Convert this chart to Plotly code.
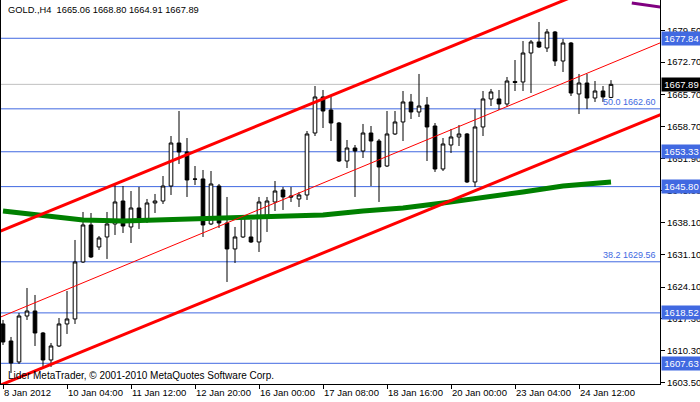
import plotly.graph_objects as go

# ---------------- data ----------------
bars = list(range(77))
opens = [1616.13, 1612.45, 1607.92, 1617.85, 1618.93, 1614.18, 1608.35, 1611.37, 1616.13, 1617.21,
         1629.52, 1637.51, 1632.76, 1634.92, 1637.73, 1642.69, 1637.08, 1641.18, 1638.81, 1642.26,
         1642.69, 1645.93, 1655.22, 1653.28, 1647.45, 1647.45, 1637.73, 1645.93, 1637.94, 1632.33,
         1634.92, 1634.92, 1633.84, 1639.24, 1642.48, 1645.07, 1643.77, 1643.13, 1643.99, 1657.38,
         1665.16, 1662.35, 1659.54, 1651.33, 1654.14, 1653.49, 1657.38, 1655.65, 1650.25, 1657.17,
         1659.76, 1664.08, 1661.92, 1663.43, 1658.89, 1649.61, 1654.79, 1656.52, 1657.17, 1646.80,
         1658.68, 1664.73, 1664.73, 1663.65, 1668.51, 1668.40, 1674.66, 1677.04, 1675.74, 1679.20,
         1672.93, 1676.82, 1665.81, 1668.18, 1664.94, 1666.45, 1665.06]
highs = [1616.99, 1613.32, 1618.50, 1623.90, 1622.39, 1614.40, 1612.02, 1617.42, 1623.25, 1634.27,
         1640.32, 1640.10, 1635.13, 1640.32, 1646.15, 1645.93, 1644.85, 1645.72, 1643.13, 1644.21,
         1648.09, 1656.73, 1662.13, 1656.30, 1650.25, 1649.39, 1649.17, 1646.37, 1643.56, 1637.08,
         1639.67, 1638.59, 1643.56, 1643.56, 1647.01, 1645.72, 1645.72, 1644.64, 1657.81, 1667.53,
         1666.67, 1665.16, 1659.76, 1655.87, 1654.79, 1659.33, 1658.89, 1656.09, 1662.13, 1662.13,
         1666.45, 1665.81, 1670.13, 1665.16, 1659.54, 1656.30, 1658.25, 1659.11, 1657.38, 1662.57,
         1666.45, 1666.89, 1666.67, 1669.48, 1673.15, 1677.25, 1677.47, 1681.36, 1679.85, 1679.41,
         1677.69, 1677.04, 1670.13, 1670.13, 1668.61, 1667.53, 1668.80]
lows = [1611.59, 1605.54, 1607.49, 1616.99, 1611.37, 1606.84, 1606.84, 1611.16, 1613.97, 1616.13,
        1629.30, 1630.38, 1632.11, 1630.17, 1635.35, 1635.78, 1633.62, 1636.65, 1637.94, 1640.10,
        1642.05, 1643.99, 1650.69, 1643.56, 1646.15, 1634.92, 1637.51, 1636.86, 1625.20, 1629.30,
        1634.70, 1633.62, 1631.68, 1636.00, 1640.53, 1640.75, 1642.48, 1641.40, 1642.91, 1656.73,
        1658.46, 1655.65, 1651.11, 1649.82, 1643.56, 1651.98, 1645.93, 1642.48, 1650.04, 1656.95,
        1655.65, 1660.41, 1660.84, 1651.33, 1648.96, 1649.17, 1653.06, 1654.57, 1646.58, 1645.72,
        1656.73, 1663.21, 1662.35, 1663.00, 1666.45, 1666.45, 1666.02, 1675.74, 1674.88, 1671.85,
        1670.56, 1665.37, 1661.49, 1662.57, 1664.08, 1664.08, 1664.91]
closes = [1612.24, 1607.70, 1617.85, 1618.93, 1614.18, 1608.35, 1611.37, 1616.13, 1617.21, 1629.52,
          1637.51, 1630.60, 1634.70, 1637.73, 1642.48, 1637.29, 1641.18, 1638.81, 1642.26, 1642.69,
          1645.93, 1655.22, 1653.28, 1647.23, 1647.40, 1637.51, 1646.37, 1637.94, 1632.33, 1634.92,
          1639.24, 1633.84, 1642.48, 1642.69, 1644.85, 1643.56, 1643.56, 1643.99, 1657.17, 1665.16,
          1662.13, 1659.54, 1651.33, 1654.14, 1653.49, 1657.38, 1655.65, 1650.04, 1657.17, 1659.76,
          1664.08, 1661.92, 1663.21, 1658.68, 1649.61, 1655.01, 1656.52, 1657.17, 1646.80, 1658.68,
          1664.73, 1666.24, 1663.65, 1668.61, 1668.29, 1674.66, 1677.04, 1675.96, 1679.20, 1672.93,
          1676.82, 1666.02, 1668.18, 1664.94, 1666.45, 1665.16, 1667.89]

# moving average (green), read at sampled bars
ma_bars = [0, 5, 10, 15, 20, 25, 30, 35, 40, 45, 50, 55, 60, 65, 70, 76]
ma_vals = [1640.53, 1639.45, 1638.59, 1638.37, 1638.59, 1639.02, 1639.24, 1639.24, 1639.67,
           1640.53, 1641.18, 1642.26, 1643.34, 1644.64, 1645.93, 1646.80]

# channel lines (endpoints, bar index / price)
chan_bars = [-1, 83]
chan_upper = [1635.72, 1695.16]
chan_mid = [1617.13, 1677.46]
chan_lower = [1602.45, 1661.89]

# purple segment top right
purple_bars = [78.6, 82.2]
purple_vals = [1685.47, 1684.58]

# horizontal levels
hlines_blue = [1677.84, 1662.60, 1653.33, 1645.80, 1629.56, 1618.52, 1607.63]
boxed_levels = [1677.84, 1653.33, 1645.80, 1618.52, 1607.63]
bid_price = 1667.89
fib_labels = [("50.0 1662.60", 1662.60), ("38.2 1629.56", 1629.56)]

xtick_bars = [0, 8, 16, 24, 32, 40, 48, 56, 64, 72]
xtick_labels = ["8 Jan 2012", "10 Jan 04:00", "11 Jan 12:00", "12 Jan 20:00", "16 Jan 00:00",
                "17 Jan 08:00", "18 Jan 16:00", "20 Jan 00:00", "23 Jan 04:00", "24 Jan 12:00"]
ytick_vals = [1603.50, 1610.30, 1617.30, 1624.10, 1631.10, 1638.10, 1645.00, 1651.90,
              1658.70, 1665.70, 1672.70, 1679.50]
ytick_labels = ["%.2f" % v for v in ytick_vals]

header = "GOLD.,H4  1665.06 1668.80 1664.91 1667.89"
footer = "Lider MetaTrader, © 2001-2010 MetaQuotes Software Corp."

BLUE = "#4169E1"
FONT = "Liberation Sans, Arial, sans-serif"

fig = go.Figure()

# horizontal lines
shapes = []
for lv in hlines_blue:
    shapes.append(dict(type="line", xref="paper", x0=0, x1=1, yref="y", y0=lv, y1=lv,
                       line=dict(color=BLUE, width=1), layer="below"))
shapes.append(dict(type="line", xref="paper", x0=0, x1=1, yref="y", y0=bid_price, y1=bid_price,
                   line=dict(color="#C0C0C0", width=1), layer="below"))

fig.add_trace(go.Scatter(x=ma_bars, y=ma_vals, mode="lines",
                         line=dict(color="#008000", width=5), hoverinfo="skip"))
fig.add_trace(go.Scatter(x=chan_bars, y=chan_mid, mode="lines",
                         line=dict(color="#FF0000", width=1), hoverinfo="skip"))
fig.add_trace(go.Scatter(x=chan_bars, y=chan_upper, mode="lines",
                         line=dict(color="#FF0000", width=3), hoverinfo="skip"))
fig.add_trace(go.Scatter(x=chan_bars, y=chan_lower, mode="lines",
                         line=dict(color="#FF0000", width=3), hoverinfo="skip"))
fig.add_trace(go.Scatter(x=purple_bars, y=purple_vals, mode="lines",
                         line=dict(color="#800080", width=3), hoverinfo="skip"))

fig.add_trace(go.Candlestick(
    x=bars, open=opens, high=highs, low=lows, close=closes,
    increasing=dict(line=dict(color="black", width=1), fillcolor="white"),
    decreasing=dict(line=dict(color="black", width=1), fillcolor="black"),
    whiskerwidth=0,
))

annotations = []
for lv in boxed_levels:
    annotations.append(dict(xref="paper", x=1, xanchor="left", xshift=1, yref="y", y=lv,
                            yanchor="middle", text="%.2f" % lv, showarrow=False,
                            font=dict(family=FONT, size=9.5, color="white"),
                            bgcolor=BLUE, width=37, height=11, borderpad=1, align="center"))
annotations.append(dict(xref="paper", x=1, xanchor="left", xshift=1, yref="y", y=bid_price,
                        yanchor="middle", text="%.2f" % bid_price, showarrow=False,
                        font=dict(family=FONT, size=9.5, color="white"),
                        bgcolor="black", width=37, height=11, borderpad=1, align="center"))
for txt, lv in fib_labels:
    annotations.append(dict(xref="paper", x=1, xanchor="right", xshift=-2, yref="y", y=lv,
                            yanchor="bottom", yshift=0, text=txt, showarrow=False,
                            font=dict(family=FONT, size=9, color=BLUE)))
annotations.append(dict(xref="paper", x=0, xanchor="left", xshift=5, yref="paper", y=1,
                        yanchor="top", yshift=-3, text=header, showarrow=False,
                        font=dict(family=FONT, size=9.3, color="black")))
annotations.append(dict(xref="paper", x=0, xanchor="left", xshift=5, yref="paper", y=0,
                        yanchor="bottom", yshift=1, text=footer, showarrow=False,
                        font=dict(family=FONT, size=10, color="black")))

fig.update_layout(
    width=700, height=402,
    margin=dict(l=1, r=40, t=0, b=18),
    paper_bgcolor="white", plot_bgcolor="white",
    showlegend=False, boxgap=0.35,
    font=dict(family=FONT, size=9.5, color="black"),
    shapes=shapes, annotations=annotations,
)
fig.update_xaxes(range=[-0.25, 82.125], tickmode="array", tickvals=xtick_bars,
                 ticktext=xtick_labels, ticks="outside", ticklen=4, tickcolor="black",
                 ticklabelposition="outside right",
                 showgrid=False, zeroline=False, showline=True, linecolor="black",
                 linewidth=1, mirror=True, rangeslider=dict(visible=False))
fig.update_yaxes(side="right", range=[1603.16, 1686.11], tickmode="array",
                 tickvals=ytick_vals, ticktext=ytick_labels, ticks="outside", ticklen=4,
                 tickcolor="black", showgrid=False, zeroline=False, showline=True,
                 linecolor="black", linewidth=1, mirror=True, automargin=False)

fig.write_html("out.html", config={"displayModeBar": False},
               post_script="document.body.style.margin='0';")
